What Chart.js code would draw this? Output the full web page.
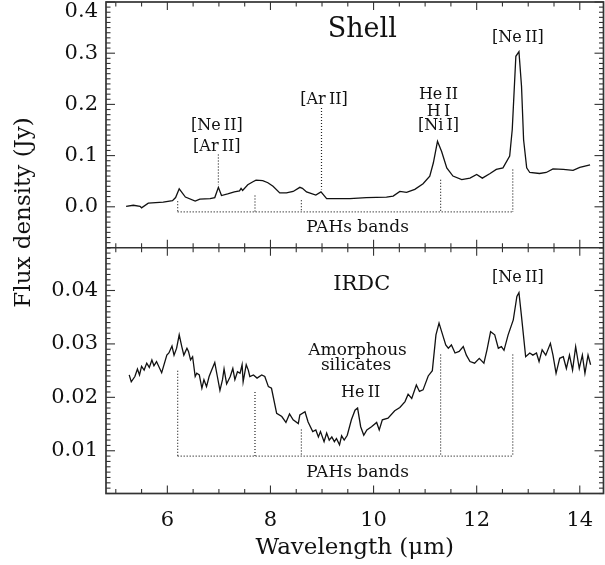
<!DOCTYPE html>
<html><head><meta charset="utf-8">
<script src="https://cdn.jsdelivr.net/npm/chart.js@4.4.1/dist/chart.umd.min.js"></script>
<style>html,body{margin:0;padding:0;background:#fff;}canvas{display:block;}</style>
</head><body>
<canvas id="c" width="605" height="565"></canvas>
<script>
// ---------- data ----------
const shellWave = [5.20,5.34,5.47,5.50,5.63,5.92,6.10,6.16,6.23,6.35,6.54,6.63,6.83,6.92,6.99,7.05,7.17,7.30,7.40,7.43,7.46,7.56,7.66,7.72,7.85,7.95,8.05,8.18,8.31,8.44,8.57,8.62,8.70,8.88,8.98,9.09,9.15,9.54,9.86,10.25,10.38,10.51,10.64,10.80,10.96,11.09,11.16,11.24,11.32,11.42,11.54,11.71,11.87,12.00,12.11,12.26,12.38,12.51,12.64,12.69,12.76,12.82,12.87,12.91,12.97,13.03,13.22,13.35,13.48,13.68,13.87,14.00,14.20];
const shellFlux = [0.001,0.003,0.001,-0.002,0.007,0.009,0.012,0.018,0.035,0.019,0.011,0.015,0.016,0.018,0.038,0.022,0.025,0.029,0.031,0.036,0.032,0.043,0.049,0.052,0.051,0.047,0.040,0.027,0.027,0.030,0.038,0.036,0.029,0.023,0.029,0.016,0.016,0.016,0.018,0.019,0.021,0.030,0.028,0.034,0.045,0.060,0.086,0.128,0.108,0.076,0.060,0.053,0.056,0.063,0.056,0.065,0.073,0.076,0.099,0.151,0.294,0.303,0.235,0.131,0.076,0.067,0.065,0.067,0.074,0.073,0.071,0.077,0.082];

const irdcWave = [5.26,5.30,5.37,5.42,5.46,5.50,5.55,5.60,5.65,5.70,5.74,5.79,5.89,5.99,6.03,6.09,6.13,6.18,6.23,6.28,6.32,6.38,6.41,6.45,6.49,6.54,6.57,6.62,6.67,6.71,6.76,6.81,6.86,6.92,6.97,7.02,7.07,7.10,7.15,7.22,7.27,7.31,7.36,7.41,7.45,7.47,7.53,7.57,7.60,7.67,7.74,7.83,7.89,7.96,8.02,8.12,8.22,8.30,8.37,8.44,8.54,8.57,8.67,8.73,8.82,8.88,8.93,8.97,9.04,9.09,9.14,9.19,9.24,9.28,9.34,9.38,9.43,9.49,9.57,9.64,9.69,9.75,9.81,9.87,9.96,10.06,10.11,10.17,10.28,10.41,10.51,10.61,10.67,10.74,10.83,10.89,10.96,11.06,11.14,11.21,11.27,11.34,11.40,11.45,11.51,11.58,11.66,11.74,11.80,11.87,11.96,12.05,12.14,12.20,12.27,12.35,12.42,12.48,12.53,12.61,12.71,12.78,12.82,12.87,12.95,13.03,13.09,13.16,13.21,13.27,13.34,13.43,13.48,13.54,13.61,13.68,13.74,13.80,13.86,13.92,13.99,14.05,14.10,14.16,14.21];
const irdcFlux = [0.0242,0.0229,0.0239,0.0253,0.0242,0.0258,0.0251,0.0264,0.0256,0.0270,0.0259,0.0267,0.0246,0.0279,0.0283,0.0296,0.0279,0.0292,0.0317,0.0295,0.0279,0.0292,0.0286,0.0270,0.0276,0.0239,0.0245,0.0242,0.0217,0.0233,0.0220,0.0239,0.0251,0.0265,0.0239,0.0213,0.0233,0.0253,0.0225,0.0239,0.0254,0.0233,0.0248,0.0245,0.0261,0.0229,0.0261,0.0251,0.0239,0.0242,0.0236,0.0242,0.0239,0.0220,0.0217,0.0170,0.0164,0.0153,0.0169,0.0158,0.0151,0.0167,0.0173,0.0154,0.0136,0.0139,0.0126,0.0136,0.0117,0.0133,0.0120,0.0126,0.0117,0.0123,0.0111,0.0128,0.0120,0.0129,0.0158,0.0176,0.0180,0.0145,0.0129,0.0139,0.0145,0.0153,0.0139,0.0158,0.0161,0.0175,0.0181,0.0192,0.0206,0.0198,0.0223,0.0211,0.0214,0.0240,0.0250,0.0317,0.0339,0.0317,0.0298,0.0292,0.0298,0.0283,0.0286,0.0295,0.0279,0.0267,0.0264,0.0273,0.0264,0.0289,0.0323,0.0317,0.0292,0.0295,0.0288,0.0317,0.0345,0.0389,0.0396,0.0351,0.0276,0.0283,0.0279,0.0283,0.0267,0.0289,0.0279,0.0301,0.0279,0.0245,0.0273,0.0276,0.0254,0.0279,0.0251,0.0295,0.0254,0.0279,0.0245,0.0279,0.0261];

const pahBands = [6.2, 7.7, 8.6, 11.3, 12.7];
const shellPahTop = [0.011, 0.022, 0.013, 0.053, 0.073];
const shellPahBase = -0.010;
const irdcPahTop = [0.025, 0.021, 0.014, 0.028, 0.028];
const irdcPahBase = 0.009;

const shellLineWave = [6.99, 8.99];
const shellLineLow = [0.043, 0.034];
const shellLineHigh = [0.102, 0.193];

const xTicks = [6, 8, 10, 12, 14];
const shellTicks = [0.0, 0.1, 0.2, 0.3, 0.4];
const shellTickLabels = ['0.0', '0.1', '0.2', '0.3', '0.4'];
const irdcTicks = [0.01, 0.02, 0.03, 0.04];
const irdcTickLabels = ['0.01', '0.02', '0.03', '0.04'];

// ---------- helpers ----------
const toXY = (xs, ys) => xs.map((x, i) => ({x: x, y: ys[i]}));
function verticals(xs, lo, hi) {
  const pts = [];
  xs.forEach((x, i) => {
    const a = Array.isArray(lo) ? lo[i] : lo;
    pts.push({x: x, y: hi[i]}, {x: x, y: a}, {x: x, y: null});
  });
  return pts;
}
const FONT = 'DejaVu Serif';
const INK = '#111';

const notes = [
  {t: 'Shell', x: 9.78, y: 0.346, axis: 'yTop', size: 27},
  {t: '[Ne\u2009II]', x: 6.96, y: 0.158, axis: 'yTop', size: 16},
  {t: '[Ar\u2009II]', x: 6.96, y: 0.118, axis: 'yTop', size: 16},
  {t: '[Ar\u2009II]', x: 9.04, y: 0.209, axis: 'yTop', size: 16},
  {t: 'He\u2009II', x: 11.26, y: 0.219, axis: 'yTop', size: 16},
  {t: 'H\u2009I', x: 11.26, y: 0.186, axis: 'yTop', size: 16},
  {t: '[Ni\u2009I]', x: 11.26, y: 0.158, axis: 'yTop', size: 16},
  {t: '[Ne\u2009II]', x: 12.80, y: 0.330, axis: 'yTop', size: 16},
  {t: 'PAHs bands', x: 9.69, y: -0.041, axis: 'yTop', size: 17},
  {t: 'IRDC', x: 9.77, y: 0.0411, axis: 'yBot', size: 21},
  {t: '[Ne\u2009II]', x: 12.80, y: 0.0423, axis: 'yBot', size: 16},
  {t: 'Amorphous', x: 9.69, y: 0.0287, axis: 'yBot', size: 17},
  {t: 'silicates', x: 9.66, y: 0.0259, axis: 'yBot', size: 17},
  {t: 'He\u2009II', x: 9.75, y: 0.0209, axis: 'yBot', size: 16},
  {t: 'PAHs bands', x: 9.69, y: 0.0059, axis: 'yBot', size: 17}
];

const textPlugin = {
  id: 'notes',
  afterDatasetsDraw(chart) {
    const ctx = chart.ctx;
    ctx.save();
    ctx.fillStyle = INK;
    ctx.textAlign = 'center';
    ctx.textBaseline = 'middle';
    notes.forEach(n => {
      ctx.font = n.size + 'px "' + FONT + '"';
      ctx.fillText(n.t, chart.scales.x.getPixelForValue(n.x), chart.scales[n.axis].getPixelForValue(n.y));
    });
    // y axis title, centred as in the reference
    const yT = chart.scales.yTop;
    ctx.translate(24, yT.getPixelForValue(-0.011));
    ctx.rotate(-Math.PI / 2);
    ctx.font = '23px "' + FONT + '"';
    ctx.fillText('Flux density (Jy)', 0, 0);
    ctx.restore();
  }
};

const framePlugin = {
  id: 'frame',
  afterDatasetsDraw(chart) {
    const {ctx, chartArea: a, scales} = chart;
    const x = scales.x, yT = scales.yTop, yB = scales.yBot;
    const mid = yT.bottom;
    const seg = (x1, y1, x2, y2) => { ctx.beginPath(); ctx.moveTo(x1, y1); ctx.lineTo(x2, y2); ctx.stroke(); };
    ctx.save();
    ctx.strokeStyle = '#333';
    ctx.lineWidth = 1.1;
    for (let k = 10; k <= 28; k++) {
      const v = k / 2;
      const px = x.getPixelForValue(v);
      const L = xTicks.includes(v) ? 8 : 4.5;
      seg(px, a.top, px, a.top + L);
      seg(px, mid - L, px, mid + L);
      seg(px, a.bottom, px, a.bottom - L);
    }
    for (let k = -8; k <= 40; k++) {
      const py = yT.getPixelForValue(k / 100);
      const L = (k % 10 === 0) ? 9 : 4.5;
      seg(a.left, py, a.left + L, py);
      seg(a.right, py, a.right - L, py);
    }
    for (let k = 2; k <= 48; k++) {
      const py = yB.getPixelForValue(k / 1000);
      const L = (k % 10 === 0) ? 9 : 4.5;
      seg(a.left, py, a.left + L, py);
      seg(a.right, py, a.right - L, py);
    }
    ctx.lineWidth = 1.7;
    ctx.strokeRect(a.left, a.top, a.right - a.left, a.bottom - a.top);
    seg(a.left, mid, a.right, mid);
    ctx.restore();
  }
};

const spec = {borderColor: INK, borderWidth: 1.3, pointRadius: 0, fill: false, tension: 0};
const dots = {borderColor: '#222', borderWidth: 1.2, borderDash: [1, 2], pointRadius: 0, fill: false, spanGaps: false};

const tickFont = {family: FONT, size: 21};

new Chart(document.getElementById('c'), {
  type: 'line',
  data: {
    datasets: [
      Object.assign({}, spec, {data: toXY(shellWave, shellFlux), yAxisID: 'yTop'}),
      Object.assign({}, spec, {data: toXY(irdcWave, irdcFlux), yAxisID: 'yBot'}),
      Object.assign({}, dots, {data: verticals(pahBands, shellPahBase, shellPahTop), yAxisID: 'yTop'}),
      Object.assign({}, dots, {data: [{x: pahBands[0], y: shellPahBase}, {x: pahBands[pahBands.length - 1], y: shellPahBase}], yAxisID: 'yTop'}),
      Object.assign({}, dots, {data: verticals(pahBands, irdcPahBase, irdcPahTop), yAxisID: 'yBot'}),
      Object.assign({}, dots, {data: [{x: pahBands[0], y: irdcPahBase}, {x: pahBands[pahBands.length - 1], y: irdcPahBase}], yAxisID: 'yBot'}),
      Object.assign({}, dots, {data: verticals(shellLineWave, shellLineLow, shellLineHigh), yAxisID: 'yTop'})
    ]
  },
  options: {
    responsive: false,
    animation: false,
    events: [],
    layout: {padding: {top: 2, right: 1.5, bottom: 0, left: 0}},
    plugins: {legend: {display: false}, tooltip: {enabled: false}},
    scales: {
      x: {
        type: 'linear', position: 'bottom', min: 4.81, max: 14.46,
        grid: {display: false, drawTicks: false}, border: {display: false},
        afterBuildTicks: s => { s.ticks = xTicks.map(v => ({value: v})); },
        ticks: {color: INK, font: tickFont, padding: 14, maxRotation: 0, autoSkip: false,
                callback: v => String(v)},
        title: {display: true, text: 'Wavelength (μm)', color: INK, font: {family: FONT, size: 23},
                padding: {top: 0, bottom: 3}},
        afterFit: s => { s.height = 71.5; s.paddingLeft = 0; s.paddingRight = 0; }
      },
      yBot: {
        type: 'linear', position: 'left', stack: 'panels', stackWeight: 1,
        min: 0.002, max: 0.048,
        grid: {display: false, drawTicks: false}, border: {display: false},
        afterBuildTicks: s => { s.ticks = irdcTicks.map(v => ({value: v})); },
        ticks: {color: INK, font: tickFont, padding: 8, autoSkip: false,
                callback: (v, i) => irdcTickLabels[i]},
        afterFit: s => { s.width = 106; s.paddingTop = 0; s.paddingBottom = 0; }
      },
      yTop: {
        type: 'linear', position: 'left', stack: 'panels', stackWeight: 1,
        min: -0.08, max: 0.40,
        grid: {display: false, drawTicks: false}, border: {display: false},
        afterBuildTicks: s => { s.ticks = shellTicks.map(v => ({value: v})); },
        ticks: {color: INK, font: {family: FONT, size: 21, lineHeight: 0.95}, padding: 8, autoSkip: false,
                callback: (v, i) => (i === shellTicks.length - 1 ? ['', shellTickLabels[i]] : shellTickLabels[i])},
        afterFit: s => { s.width = 106; s.paddingTop = 0; s.paddingBottom = 0; }
      }
    }
  },
  plugins: [framePlugin, textPlugin]
});
</script>
</body></html>
